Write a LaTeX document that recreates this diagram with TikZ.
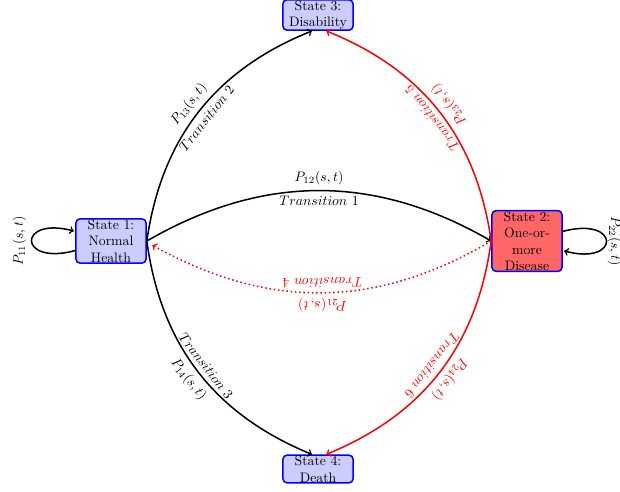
\documentclass[tikz,border=0pt]{standalone}
\usepackage{amsmath}
\usepackage{tikz}
\tikzset{every picture/.style={line width=0.75pt}}

\begin{document}
\begin{tikzpicture}[x=0.727pt,y=0.727pt,
	state/.style={draw=blue, fill=blue!20, line width=1.1pt, rounded corners=3pt, text width=45pt, align=center, inner xsep=3pt, inner ysep=0.5pt},
	trans/.style={->, line width=1.1pt},
	ill/.style={->, line width=1.1pt, red},
	lab/.style={sloped, allow upside down}]
	\useasboundingbox (0,0) rectangle (620,492);
	
	%States
	\node[state] (s1) at (111,251) {State 1:\\Normal\\Health};
	\node[state, fill=red!60] (s2) at (527,251) {State 2:\\One-or-\\more\\Disease};
	\node[state] (s3) at (318,477) {State 3:\\Disability};
	\node[state] (s4) at (318,23) {State 4:\\Death};
	
	%Staying in the same state
	\path (s1) edge[trans, loop left] node[lab,above]{$P_{11}(s,t)$} (s1);
	\path (s2) edge[trans, loop right] node[lab,above,inner sep=0.5pt]{$P_{22}(s,t)$} (s2);
	
	%From state 1
	\draw[trans] (s1.east) to[bend left=30] node[lab,above]{$P_{12}(s,t)$} node[lab,below]{$Transition\ 1$} (s2.west);
	\draw[trans] (s1.east) to[bend left=30] node[lab,above]{$P_{13}(s,t)$} node[lab,below]{$Transition\ 2$} ([xshift=-4.4pt]s3.south);
	\draw[trans] (s1.east) to[bend right=30] node[lab,above]{$Transition\ 3$} node[lab,below]{$P_{14}(s,t)$} ([xshift=-4.4pt]s4.north);
	
	%From state 2
	\draw[ill, dotted] (s2.west) to[bend left=30] node[lab,above]{$P_{21}(s,t)$} node[lab,below]{$Transition\ 4$} ([xshift=4pt,yshift=-3pt]s1.east);
	\draw[ill] (s2.west) to[bend right=30] node[lab,above]{$Transition\ 5$} node[lab,below]{$P_{23}(s,t)$} ([xshift=6pt]s3.south);
	\draw[ill] (s2.west) to[bend left=30] node[lab,above]{$P_{24}(s,t)$} node[lab,below]{$Transition\ 6$} ([xshift=6pt]s4.north);
	
\end{tikzpicture}
\end{document}
